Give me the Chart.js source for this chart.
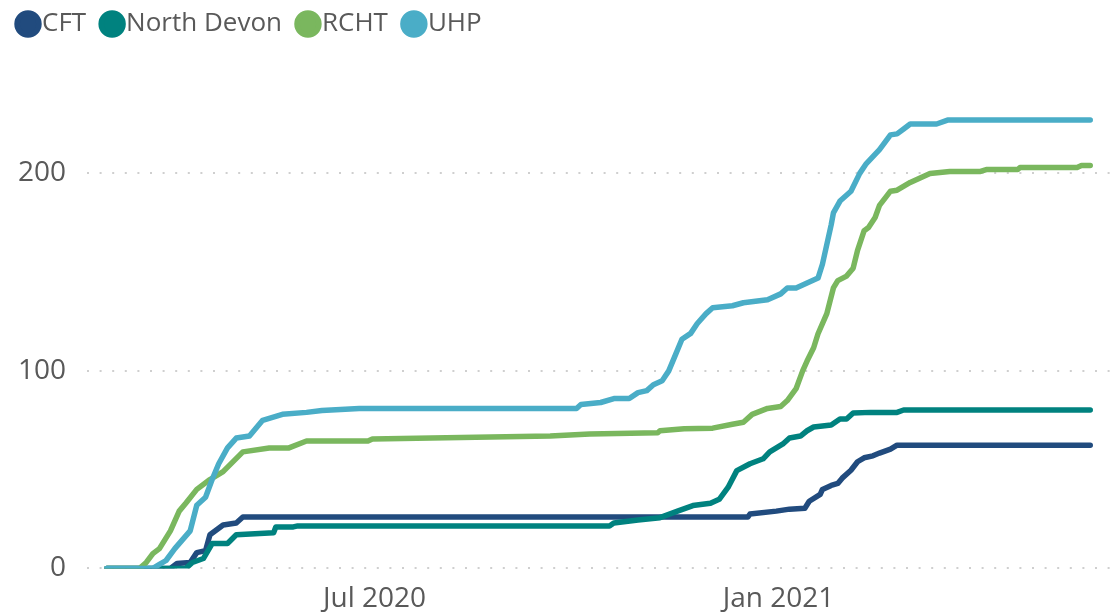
<!DOCTYPE html>
<html>
<head>
<meta charset="utf-8">
<script src="https://cdn.jsdelivr.net/npm/chart.js@4"></script>
<style>
  html, body { margin: 0; padding: 0; background: #fff; }
  #contenedor { width: 1119px; height: 615px; position: relative; }
</style>
</head>
<body>
<div id="contenedor"><canvas id="grafico"></canvas></div>
<script>
// Días contados desde el 1 de marzo de 2020
const fechaInicio = '2020-03-01';

const series = ['CFT', 'North Devon', 'RCHT', 'UHP'];

const cftDias = [0, 29, 32, 38, 41, 45, 47, 53, 59, 62, 74, 292, 293, 305, 311, 318, 320, 325, 326, 330, 333, 335, 339, 342, 345, 349, 352, 357, 360, 448];
const cftValores = [0, 0, 2.5, 3, 8, 9, 17, 22, 23, 26, 26, 26, 27.5, 29, 30, 30.5, 34, 37.5, 40, 42, 43, 45.7, 49.7, 54, 56, 57, 58.4, 60.4, 62.4, 62.4];

const ndDias = [0, 36, 39, 44, 48, 55, 59, 76, 77, 85, 87, 229, 231, 242, 252, 260, 267, 275, 279, 283, 287, 293, 299, 302, 308, 311, 316, 319, 322, 330, 334, 337, 340, 348, 360, 363, 448];
const ndValores = [0, 0, 3, 5, 12.6, 12.6, 17, 18, 21, 21, 21.5, 21.5, 23, 24.5, 25.7, 29, 31.8, 33, 35, 41, 49.5, 53, 55.5, 59, 63, 66, 67, 69.7, 71.6, 72.6, 75.6, 75.6, 78.7, 79, 79, 80.2, 80.2];

const rchtDias = [0, 15, 18, 21, 24, 29, 33, 36, 41, 47, 53, 62, 74, 83, 91, 119, 121, 202, 220, 251, 252, 263, 276, 285, 290, 294, 301, 307, 310, 314, 317, 319, 322, 324, 328, 331, 333, 337, 340, 342, 345, 347, 350, 352, 357, 360, 366, 375, 384, 398, 401, 415, 416, 442, 444, 448];
const rchtValores = [0, 0, 3, 7.5, 10, 19, 29, 33, 40, 45, 49, 59, 61, 61, 64.5, 64.5, 65.5, 67, 68, 68.7, 69.7, 70.7, 71, 73, 74, 78, 81, 82, 85, 91, 100, 105, 111.7, 118.8, 129, 142, 145.7, 148, 152, 161, 171, 172.6, 177.7, 183.8, 191, 191.5, 195.4, 200, 201, 201, 202, 202, 203, 203, 204, 204];

const uhpDias = [0, 21, 24, 27, 31, 38, 41, 45, 48, 51, 55, 59, 65, 71, 80, 91, 98, 115, 202, 214, 216, 225, 231, 238, 242, 246, 249, 253, 256, 259, 262, 266, 269, 273, 276, 285, 290, 301, 307, 310, 314, 319, 324, 326, 330, 331, 334, 339, 343, 346, 349, 352, 357, 360, 363, 366, 378, 383, 448];
const uhpValores = [0, 0, 2, 4, 10, 19, 32, 36, 45, 53, 61, 66, 67, 75, 78, 79, 80, 81, 81, 81, 83, 84, 86, 86, 89, 90, 93, 95, 100, 108, 116, 119, 124, 129, 132, 133, 134.5, 136, 139, 142, 142, 144.5, 147, 154, 174, 180, 186, 191, 200, 205, 208.5, 212, 219.5, 220, 222.5, 225, 225, 227, 227];

// Etiquetas del eje X
const fechasEtiquetasX = ['2020-07-01', '2021-01-01'];
const etiquetasX = ['Jul 2020', 'Jan 2021'];
const ticksY = [0, 100, 200];

const colores = ['#214b7e', '#00827f', '#7ab75e', '#4aadc7'];

function diasDesdeInicio(fecha) {
  return Math.round((Date.parse(fecha) - Date.parse(fechaInicio)) / 86400000);
}

function puntos(dias, valores) {
  return dias.map((d, i) => ({ x: d, y: valores[i] }));
}

const datosSeries = [
  puntos(cftDias, cftValores),
  puntos(ndDias, ndValores),
  puntos(rchtDias, rchtValores),
  puntos(uhpDias, uhpValores)
];
const posicionesX = fechasEtiquetasX.map(diasDesdeInicio);

const fuente = "'Open Sans', sans-serif";
const gris = '#595959';

new Chart(document.getElementById('grafico'), {
  type: 'line',
  data: {
    datasets: series.map((nombre, i) => ({
      label: nombre,
      data: datosSeries[i],
      borderColor: colores[i],
      backgroundColor: colores[i],
      borderWidth: 5.5,
      borderCapStyle: 'round',
      borderJoinStyle: 'round',
      pointRadius: 0,
      tension: 0,
      order: series.length - 1 - i // UHP encima
    }))
  },
  options: {
    responsive: true,
    maintainAspectRatio: false,
    animation: false,
    layout: { padding: { left: 2, right: 9, top: -14, bottom: -15 } },
    plugins: {
      tooltip: { enabled: false },
      legend: {
        position: 'top',
        align: 'start',
        labels: {
          usePointStyle: true,
          pointStyle: 'circle',
          boxWidth: 2,
          boxHeight: 15.5,
          padding: 25,
          color: gris,
          font: { family: fuente, size: 26 },
          sort: (a, b) => a.datasetIndex - b.datasetIndex
        }
      }
    },
    scales: {
      x: {
        type: 'linear',
        min: -9,
        max: 457,
        grid: { display: false, drawTicks: false },
        border: { display: false },
        afterBuildTicks: (escala) => {
          escala.ticks = posicionesX.map(v => ({ value: v }));
        },
        ticks: {
          padding: 14,
          maxRotation: 0,
          autoSkip: false,
          color: gris,
          font: { family: fuente, size: 28 },
          callback: (valor) => etiquetasX[posicionesX.indexOf(valor)]
        }
      },
      y: {
        min: 0,
        max: 264,
        afterBuildTicks: (escala) => {
          escala.ticks = ticksY.map(v => ({ value: v }));
        },
        afterFit: (escala) => { escala.width = 85; },
        grid: { color: '#cfcfcf', lineWidth: 2, drawTicks: false },
        border: { display: false, dash: [2, 10.6] },
        ticks: {
          padding: 21,
          color: gris,
          font: { family: fuente, size: 28 }
        }
      }
    }
  }
});
</script>
</body>
</html>
